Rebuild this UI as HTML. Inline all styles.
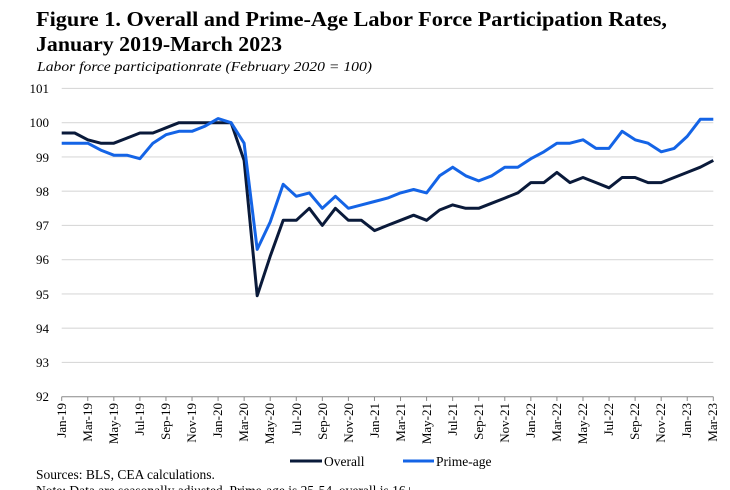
<!DOCTYPE html>
<html><head><meta charset="utf-8"><style>
html,body{margin:0;padding:0;background:#fff;width:730px;height:490px;overflow:hidden}
svg{display:block;font-family:"Liberation Serif",serif}
</style></head><body>
<svg id="s" width="730" height="490" xmlns="http://www.w3.org/2000/svg">
<text x="36" y="26" font-size="21" font-weight="bold" textLength="631" lengthAdjust="spacingAndGlyphs">Figure 1. Overall and Prime-Age Labor Force Participation Rates,</text>
<text x="36" y="51" font-size="21" font-weight="bold" textLength="246" lengthAdjust="spacingAndGlyphs">January 2019-March 2023</text>
<text x="37" y="71" font-size="14" font-style="italic" textLength="335" lengthAdjust="spacingAndGlyphs">Labor force participationrate (February 2020 = 100)</text>
<g id="grid" stroke="#d9d9d9" stroke-width="1.2"></g>
<g font-size="13" text-anchor="end" fill="#000">
<text x="49" y="93">101</text><text x="49" y="127">100</text><text x="49" y="162">99</text><text x="49" y="196">98</text><text x="49" y="230">97</text><text x="49" y="264">96</text><text x="49" y="299">95</text><text x="49" y="333">94</text><text x="49" y="367">93</text><text x="49" y="401">92</text>
</g>
<line x1="61.7" y1="396.7" x2="713.3" y2="396.7" stroke="#888" stroke-width="1"/>
<g id="ticks" stroke="#888"></g>
<g id="xl" font-size="13" text-anchor="end">
<text transform="translate(66,403) rotate(-90)">Jan-19</text>
<text transform="translate(92,403) rotate(-90)">Mar-19</text>
<text transform="translate(118,403) rotate(-90)">May-19</text>
<text transform="translate(144,403) rotate(-90)">Jul-19</text>
<text transform="translate(170,403) rotate(-90)">Sep-19</text>
<text transform="translate(196,403) rotate(-90)">Nov-19</text>
<text transform="translate(222,403) rotate(-90)">Jan-20</text>
<text transform="translate(248,403) rotate(-90)">Mar-20</text>
<text transform="translate(274,403) rotate(-90)">May-20</text>
<text transform="translate(301,403) rotate(-90)">Jul-20</text>
<text transform="translate(327,403) rotate(-90)">Sep-20</text>
<text transform="translate(353,403) rotate(-90)">Nov-20</text>
<text transform="translate(379,403) rotate(-90)">Jan-21</text>
<text transform="translate(405,403) rotate(-90)">Mar-21</text>
<text transform="translate(431,403) rotate(-90)">May-21</text>
<text transform="translate(457,403) rotate(-90)">Jul-21</text>
<text transform="translate(483,403) rotate(-90)">Sep-21</text>
<text transform="translate(509,403) rotate(-90)">Nov-21</text>
<text transform="translate(535,403) rotate(-90)">Jan-22</text>
<text transform="translate(561,403) rotate(-90)">Mar-22</text>
<text transform="translate(587,403) rotate(-90)">May-22</text>
<text transform="translate(613,403) rotate(-90)">Jul-22</text>
<text transform="translate(639,403) rotate(-90)">Sep-22</text>
<text transform="translate(665,403) rotate(-90)">Nov-22</text>
<text transform="translate(691,403) rotate(-90)">Jan-23</text>
<text transform="translate(717,403) rotate(-90)">Mar-23</text>
</g>
<polyline id="ov" fill="none" stroke="#0a1a3a" stroke-width="3" stroke-linejoin="round"/>
<polyline id="pa" fill="none" stroke="#1464e6" stroke-width="3" stroke-linejoin="round"/>
<line x1="290" y1="461" x2="322" y2="461" stroke="#0a1a3a" stroke-width="3"/>
<text x="324" y="466" font-size="13.5">Overall</text>
<line x1="403" y1="461" x2="434" y2="461" stroke="#1464e6" stroke-width="3"/>
<text x="436" y="466" font-size="13.5">Prime-age</text>
<text x="36" y="479" font-size="13.5">Sources: BLS, CEA calculations.</text>
<text x="36" y="495" font-size="13.5">Note: Data are seasonally adjusted. Prime-age is 25-54, overall is 16+.</text>
</svg>
<script>
var ov=[99.7,99.7,99.5,99.4,99.4,99.55,99.7,99.7,99.85,100,100,100,100,100,98.9,94.95,96.1,97.15,97.15,97.5,97.0,97.5,97.15,97.15,96.85,97.0,97.15,97.3,97.15,97.45,97.6,97.5,97.5,97.65,97.8,97.95,98.25,98.25,98.55,98.25,98.4,98.25,98.1,98.4,98.4,98.25,98.25,98.4,98.55,98.7,98.9];
var pa=[99.4,99.4,99.4,99.2,99.05,99.05,98.95,99.4,99.65,99.75,99.75,99.9,100.12,100.0,99.4,96.3,97.1,98.2,97.85,97.95,97.5,97.85,97.5,97.6,97.7,97.8,97.95,98.05,97.95,98.45,98.7,98.45,98.3,98.45,98.7,98.7,98.95,99.15,99.4,99.4,99.5,99.25,99.25,99.75,99.5,99.4,99.15,99.25,99.6,100.1,100.1];
function X(i){return 61.7+i*13.032}function Y(v){return 122.7+(100-v)*34.25}
function pts(a){return a.map(function(v,i){return X(i).toFixed(1)+","+Y(v).toFixed(1)}).join(" ")}
document.getElementById("ov").setAttribute("points",pts(ov));
document.getElementById("pa").setAttribute("points",pts(pa));
var g=document.getElementById("grid"),ns="http://www.w3.org/2000/svg";
for(var k=0;k<9;k++){var l=document.createElementNS(ns,"line");var y=Y(101-k);l.setAttribute("x1",61.7);l.setAttribute("x2",713.3);l.setAttribute("y1",y);l.setAttribute("y2",y);g.appendChild(l);}
var t=document.getElementById("ticks");
for(var i=0;i<=50;i+=2){var l=document.createElementNS(ns,"line");l.setAttribute("x1",X(i));l.setAttribute("x2",X(i));l.setAttribute("y1",396.7);l.setAttribute("y2",401);t.appendChild(l);}
</script>
</body></html>
